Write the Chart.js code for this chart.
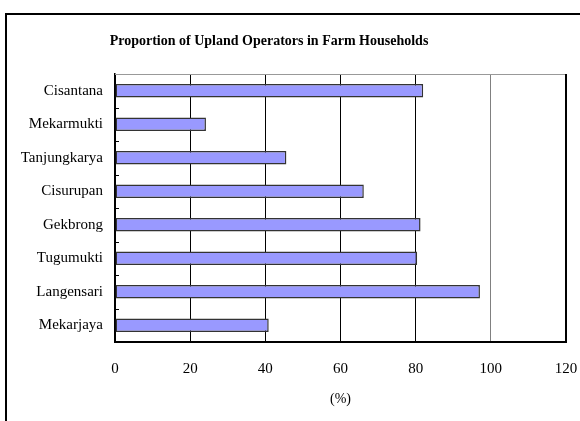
<!DOCTYPE html>
<html>
<head>
<meta charset="utf-8">
<script src="https://cdn.jsdelivr.net/npm/chart.js@4"></script>
<style>
  body { margin: 0; background: #fff; }
  #wrap { width: 580px; height: 421px; position: relative; }
</style>
</head>
<body>
<div id="wrap"><canvas id="chart" width="580" height="421"></canvas></div>
<script>
const villages = ["Cisantana", "Mekarmukti", "Tanjungkarya", "Cisurupan", "Gekbrong", "Tugumukti", "Langensari", "Mekarjaya"];
const upland = [82, 24.2, 45.6, 66.2, 81.3, 80.4, 97.1, 40.9];
const chartTitle = "Proportion of Upland Operators in Farm Households";
const axisTitle = "(%)";

const serif = "'Liberation Serif', 'Times New Roman', serif";

// frame + plot box + small inside ticks on the category axis
const framePlugin = {
  id: "frame",
  afterDraw(chart) {
    const ctx = chart.ctx;
    const a = chart.chartArea;
    const y = chart.scales.y;
    ctx.save();
    ctx.strokeStyle = "#000";
    ctx.lineWidth = 2;
    ctx.strokeRect(6, 14, 700, 700);

    ctx.strokeStyle = "#999";
    ctx.lineWidth = 1;
    ctx.beginPath();
    ctx.moveTo(a.left, a.top + 0.5);
    ctx.lineTo(a.right, a.top + 0.5);
    ctx.stroke();
    ctx.strokeStyle = "#000";
    ctx.lineWidth = 2;
    ctx.beginPath();
    ctx.moveTo(a.right, a.top);
    ctx.lineTo(a.right, a.bottom);
    ctx.stroke();

    ctx.lineWidth = 1;
    for (let i = 0; i < villages.length - 1; i++) {
      const py = Math.round((y.getPixelForTick(i) + y.getPixelForTick(i + 1)) / 2) + 0.5;
      ctx.beginPath();
      ctx.moveTo(a.left, py);
      ctx.lineTo(a.left + 4, py);
      ctx.stroke();
    }

    ctx.fillStyle = "#000";
    ctx.font = "bold 14px " + serif;
    ctx.textAlign = "center";
    ctx.textBaseline = "middle";
    ctx.fillText(chartTitle, 269, 41);
    ctx.restore();
  }
};

new Chart(document.getElementById("chart"), {
  type: "bar",
  data: {
    labels: villages,
    datasets: [{
      data: upland,
      backgroundColor: "#9999FF",
      borderColor: "#333",
      borderWidth: 1.5,
      borderSkipped: false,
      categoryPercentage: 1,
      barPercentage: 0.41
    }]
  },
  options: {
    indexAxis: "y",
    responsive: false,
    animation: false,
    layout: { padding: { top: 74, right: 14, left: 0, bottom: 0 } },
    plugins: {
      legend: { display: false },
      tooltip: { enabled: false }
    },
    scales: {
      x: {
        min: 0,
        max: 120,
        ticks: { stepSize: 20, color: "#000", padding: 18, font: { family: serif, size: 15 } },
        grid: {
          drawTicks: false,
          color: (c) => (c.tick && c.tick.value === 100 ? "#808080" : "#000"),
          lineWidth: 1
        },
        border: { color: "#000", width: 2 },
        title: { display: true, text: axisTitle, color: "#000", padding: { top: 0, bottom: 13 }, font: { family: serif, size: 14 } },
        afterFit(s) {
          s.height = 79;
          s.paddingLeft = 0;
          s.paddingRight = 0;
        }
      },
      y: {
        ticks: { color: "#000", padding: 12, font: { family: serif, size: 15 } },
        grid: { display: false, drawTicks: false },
        border: { color: "#000", width: 1.5 },
        afterFit(s) { s.width = 115; }
      }
    }
  },
  plugins: [framePlugin]
});
</script>
</body>
</html>
